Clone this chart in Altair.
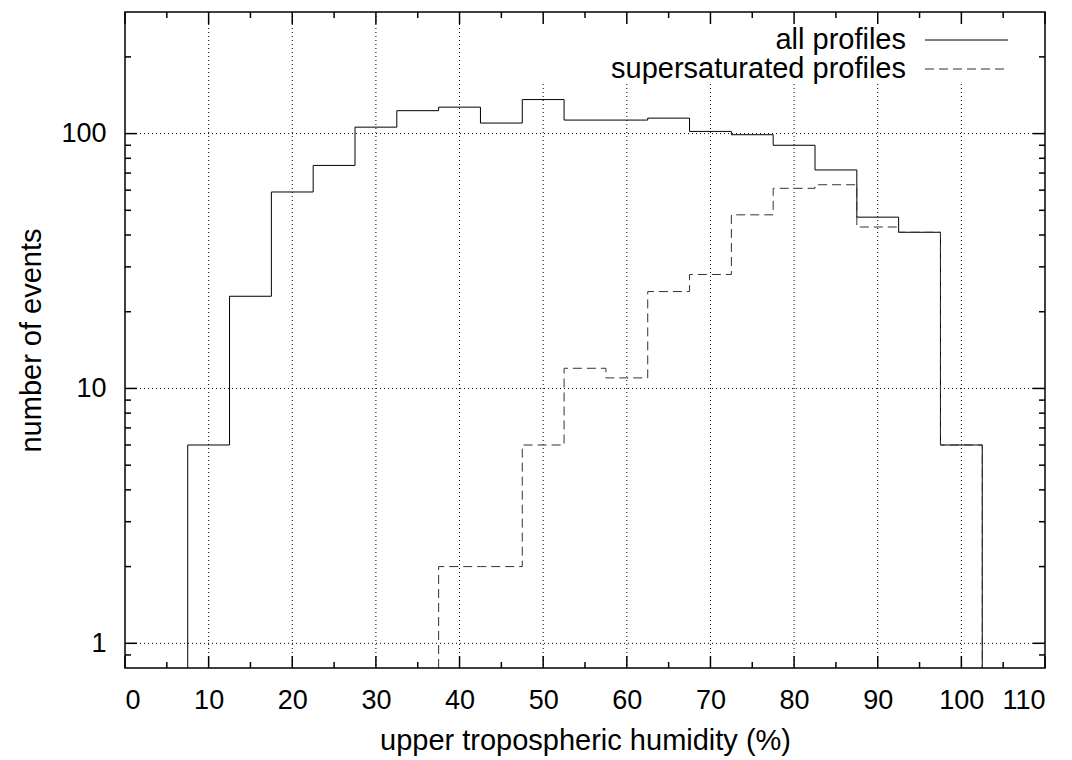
import altair as alt
import pandas as pd

# ---- data ----
x_domain = [0, 110]
y_domain = [0.8, 300]

bin_centers_all = [10, 15, 20, 25, 30, 35, 40, 45, 50, 55, 60, 65, 70, 75, 80, 85, 90, 95, 100]
all_counts = [6, 23, 59, 75, 106, 123, 127, 110, 136, 113, 113, 115, 102, 99, 90, 72, 47, 41, 6]

bin_centers_super = [40, 45, 50, 55, 60, 65, 70, 75, 80, 85, 90, 95, 100]
super_counts = [2, 2, 6, 12, 11, 24, 28, 48, 61, 63, 43, 41, 6]

series_names = ["all profiles", "supersaturated profiles"]

x_major = [0, 10, 20, 30, 40, 50, 60, 70, 80, 90, 100, 110]
x_minor = [5, 15, 25, 35, 45, 55, 65, 75, 85, 95, 105]
x_grid = [10, 20, 30, 40, 50, 60, 70, 80, 90, 100]
y_major = [1, 10, 100]
y_minor = [0.9, 2, 3, 4, 5, 6, 7, 8, 9, 20, 30, 40, 50, 60, 70, 80, 90, 200]

x_title = "upper tropospheric humidity (%)"
y_title = "number of events"

# ---- layout / style ----
W, H = 920, 656
FONT = "Liberation Sans"
MAJ, MIN = 12, 6


def histeps(centers, counts, base, name):
    w = centers[1] - centers[0]
    xs, ys = [centers[0] - w / 2], [base]
    for c, v in zip(centers, counts):
        xs += [c - w / 2, c + w / 2]
        ys += [v, v]
    xs.append(centers[-1] + w / 2)
    ys.append(base)
    return pd.DataFrame({"x": xs, "y": ys, "i": list(range(len(xs))), "s": name})


df_all = histeps(bin_centers_all, all_counts, y_domain[0], series_names[0])
df_sup = histeps(bin_centers_super, super_counts, y_domain[0], series_names[1])

xs = alt.Scale(domain=x_domain, nice=False, zero=False)
ys = alt.Scale(type="log", domain=y_domain, nice=False)
ax_x = alt.Axis(values=x_major, title=x_title, format="d")
ax_y = alt.Axis(values=y_major, title=y_title, format="d")
one = pd.DataFrame({"k": [0]})


def X(f="x:Q"):
    return alt.X(f, scale=xs, axis=ax_x)


def Y(f="y:Q"):
    return alt.Y(f, scale=ys, axis=ax_y)


grid_x = alt.Chart(pd.DataFrame({"x": x_grid})).mark_rule(
    color="black", strokeDash=[1, 3], strokeWidth=1
).encode(x=X())

grid_y = alt.Chart(pd.DataFrame({"y": y_major})).mark_rule(
    color="black", strokeDash=[1, 3], strokeWidth=1
).encode(y=Y())

key_bg = alt.Chart(one).mark_rect(fill="white", stroke=None).encode(
    x=alt.value(400), x2=alt.value(W - 2), y=alt.value(2), y2=alt.value(71)
)

line_all = alt.Chart(df_all).mark_line(color="black", strokeWidth=1, clip=True).encode(
    x=X(), y=Y(), order="i:Q"
)

line_sup = alt.Chart(df_sup).mark_line(
    color="#333333", strokeWidth=1, strokeDash=[9, 5], clip=True
).encode(x=X(), y=Y(), order="i:Q")


def xticks(vals, length):
    d = pd.DataFrame({"x": vals})
    base = alt.Chart(d).mark_rule(color="black", strokeWidth=1.5)
    b = base.encode(x=X(), y=alt.value(H), y2=alt.value(H - length))
    t = base.encode(x=X(), y=alt.value(0), y2=alt.value(length))
    return [b, t]


def yticks(vals, length):
    d = pd.DataFrame({"y": vals})
    base = alt.Chart(d).mark_rule(color="black", strokeWidth=1.5)
    l = base.encode(y=Y(), x=alt.value(0), x2=alt.value(length))
    r = base.encode(y=Y(), x=alt.value(W), x2=alt.value(W - length))
    return [l, r]


border = alt.Chart(one).mark_rect(fillOpacity=0, stroke="black", strokeWidth=1.5).encode(
    x=alt.value(0), x2=alt.value(W), y=alt.value(0), y2=alt.value(H)
)

leg_layers = []
leg_y_line = [28, 57]
leg_y_text = [37, 66]
leg_dash = [[1, 0], [9, 5]]
leg_col = ["black", "#333333"]
for i, name in enumerate(series_names):
    d = pd.DataFrame({"name": [name]})
    leg_layers.append(
        alt.Chart(d).mark_text(align="right", baseline="alphabetic", fontSize=29, font=FONT, color="black").encode(
            text="name:N", x=alt.value(781), y=alt.value(leg_y_text[i])
        )
    )
    leg_layers.append(
        alt.Chart(d).mark_rule(color=leg_col[i], strokeWidth=1, strokeDash=leg_dash[i]).encode(
            x=alt.value(800), x2=alt.value(883), y=alt.value(leg_y_line[i])
        )
    )

layers = [grid_x, grid_y, key_bg, line_all, line_sup]
layers += xticks(x_major, MAJ) + xticks(x_minor, MIN) + yticks(y_major, MAJ) + yticks(y_minor, MIN)
layers += [border] + leg_layers

chart = alt.layer(*layers).properties(
    width=W,
    height=H,
    padding={"left": 117, "top": 4, "right": 19, "bottom": 92},
    autosize=alt.AutoSizeParams(type="none"),
).configure_view(stroke=None).configure_axis(
    domain=False,
    ticks=False,
    grid=False,
    labelFont=FONT,
    labelFontSize=27,
    labelColor="black",
    labelPadding=19,
    titleFont=FONT,
    titleFontSize=29,
    titleFontWeight="normal",
    titleColor="black",
).configure_axisX(titlePadding=13).configure_axisY(titlePadding=14)

chart.save("out.html", embed_options={"renderer": "svg", "actions": False})
